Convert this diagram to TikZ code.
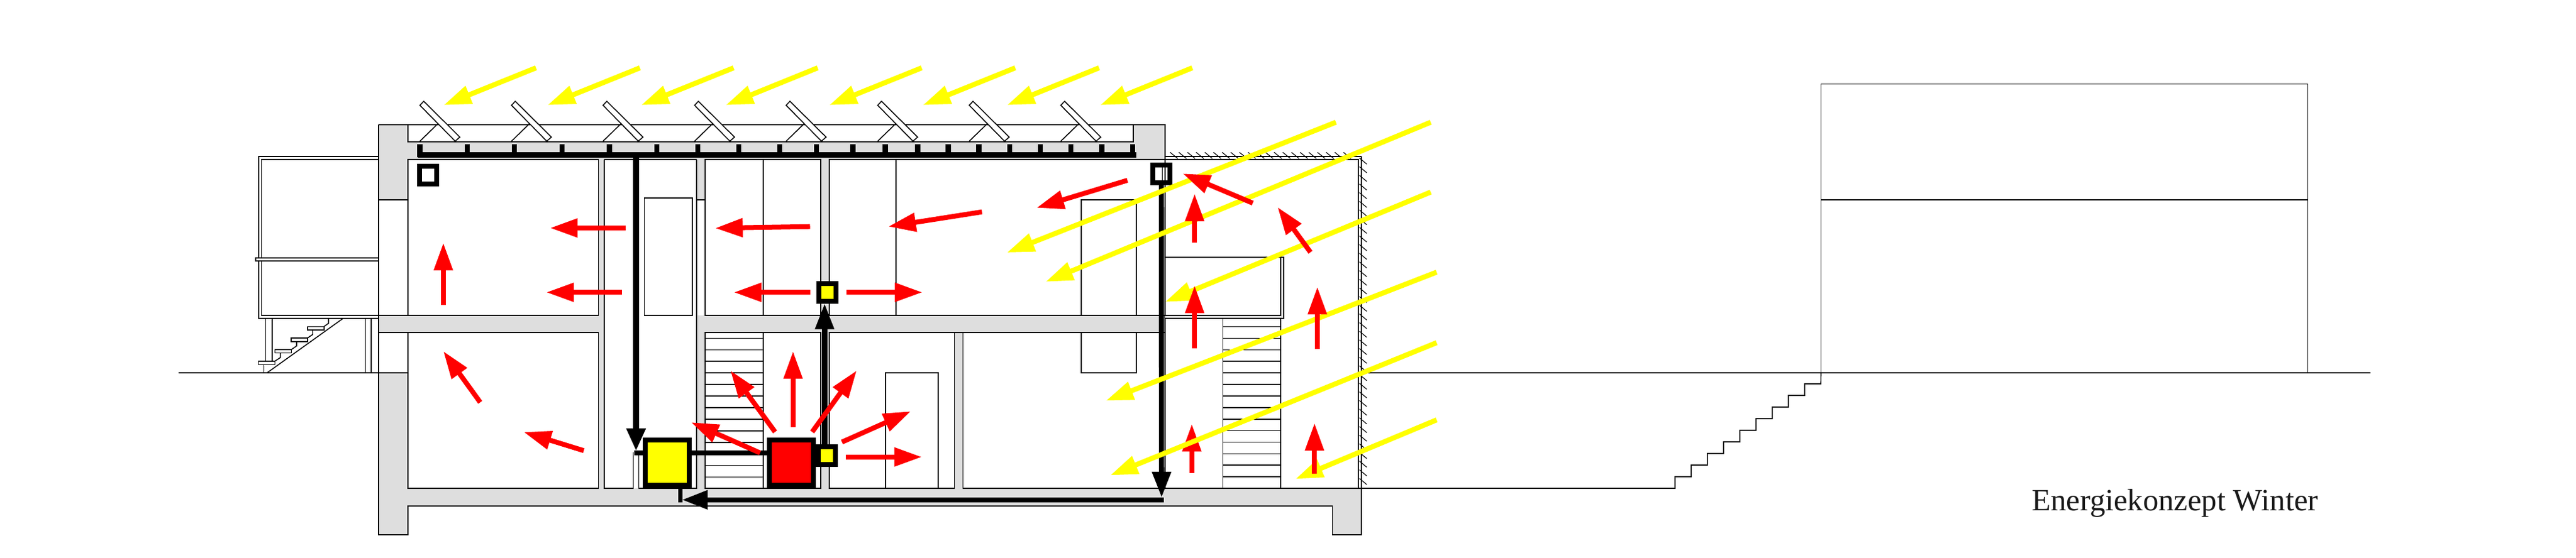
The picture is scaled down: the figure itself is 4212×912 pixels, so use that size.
\documentclass[tikz,border=0pt]{standalone}
\usepackage{fontspec}
\setmainfont{Liberation Serif}
\usetikzlibrary{arrows.meta}
\definecolor{wallgrey}{HTML}{DEDEDE}
\definecolor{sunyellow}{RGB}{255,255,0}
\definecolor{heatred}{RGB}{255,0,0}
\tikzset{
  px/.style={line width=#1*0.2845pt},
  fine/.style={draw=black,px=1.6},
  room/.style={fine,fill=white},
  wall/.style={fill=wallgrey,draw=none},
  heat/.style={draw=heatred,px=8,-{Triangle[length=.45cm,width=.295cm,fill=heatred]}},
  sun/.style={draw=sunyellow,px=8.2,-{Triangle[length=.45cm,width=.295cm,fill=sunyellow]}},
  pipe/.style={draw=black,px=8.4},
  pipearrow/.style={pipe,-{Triangle[length=.42cm,width=.295cm,fill=black]}},
  unit/.style={draw=black,px=8,inner sep=0pt,rectangle,outer sep=4*0.01cm},
}
\begin{document}
\begin{tikzpicture}[x=0.01cm,y=-0.01cm]
\useasboundingbox (0,0) rectangle (4212,912);
% ---------- concrete
\fill[wall] (619,203.7) rectangle (1905,260.7);
\fill[wall] (619,203.7) rectangle (666.7,326.7);
\fill[wall] (619,515.7) rectangle (978.5,544);
\fill[wall] (978.5,260.7) rectangle (988,799);
\fill[wall] (1139,515.7) rectangle (1905,544);
\fill[wall] (1139,260.7) rectangle (1153,326.7);
\fill[wall] (1139,515.7) rectangle (1153,799);
\fill[wall] (1342,260.7) rectangle (1356,799);
\fill[wall] (1560.5,544) rectangle (1574.6,799);
\fill[wall] (1035.5,740) rectangle (1044.6,799);
\fill[wall] (619,610) rectangle (666.7,875);
\fill[wall] (619,799) rectangle (2225.7,827.7);
\fill[wall] (2178.3,827.7) rectangle (2225.7,875);
% ---------- outlines of the concrete
\draw[fine] (619,610) -- (619,875) -- (666.7,875) -- (666.7,827.7) -- (2178.3,827.7) -- (2178.3,875) -- (2225.7,875) -- (2225.7,256);
\draw[fine] (619,203.7) -- (1905,203.7) -- (1905,799);
\draw[fine] (619,203.7) -- (619,610);
\draw[fine] (619,326.7) -- (666.7,326.7);
\draw[fine] (619,515.7) -- (666.7,515.7) (619,544) -- (666.7,544);
\draw[fine] (1900,260.7) -- (1900,326.7);
\draw[fine] (1139,326.7) -- (1153,326.7);
% ---------- rooms
\draw[room] (666.7,203.7) rectangle (1853,232);
\draw[room] (666.7,260.7) rectangle (978.5,515.7);
\draw[room] (1153,260.7) rectangle (1342,515.7);
\draw[fine] (1247.7,260.7) -- (1247.7,515.7);
\draw[room] (1356,260.7) rectangle (1905,515.7);
\draw[fine] (1465,260.7) -- (1465,515.7);
\draw[room] (666.7,544) rectangle (978.5,799);
\draw[fine] (666.7,326.7) -- (666.7,515.7);
\draw[fine] (619,610) -- (666.7,610);
% shaft
\fill[white] (988,260.7) rectangle (1139,799);
\draw[fine] (988,260.7) -- (1139,260.7) (988,260.7) -- (988,799) -- (1035.5,799) -- (1035.5,740) (1044.6,740) -- (1044.6,799) -- (1139,799) -- (1139,260.7);
\draw[room] (1053.5,323.7) rectangle (1132,515.7);
\draw[fine] (1153,326.7) -- (1153,515.7);
% lower rooms
\draw[room] (1153,544) rectangle (1342,799);
\draw[fine] (1247.7,544) -- (1247.7,799);
\foreach \y in {553.3,572.3,591,610,629,647.7,666.7,685.7,704.7,723.7,742.7,761.3,780.3}
  \draw[fine] (1153,\y) -- (1247.7,\y);
\draw[fine] (1139,544) -- (1139,799);
\draw[room] (1356,544) rectangle (1560.5,799);
\draw[fine] (1448,799) -- (1448,610) -- (1534,610) -- (1534,799);
\draw[room] (1574.6,544) rectangle (1905,799);
\draw[room] (1768,326.7) rectangle (1858,515.7);
\draw[fine] (1768,544) -- (1768,610) -- (1858,610) -- (1858,544);
\draw[fine] (1356,515.7) -- (1905,515.7) (1356,544) -- (1574.6,544);
% ---------- east annex
\fill[white] (1905,260.7) rectangle (2220.7,799);
\draw[fine] (1905,256) -- (2225.7,256) (1905,260.7) -- (2220.7,260.7) -- (2220.7,799);
\draw[fine] (1905,260.7) -- (1905,799);
\draw[fine] (1905,799) -- (2225.7,799);
\fill[wall] (1905,515.7) -- (2094,515.7) -- (2094,421) -- (2098.7,421) -- (2098.7,520.7) -- (1905,520.7) -- cycle;
\draw[fine] (1905,421) -- (2098.7,421) -- (2098.7,520.7) -- (1905,520.7);
\draw[fine] (2094,421) -- (2094,515.7) -- (1905,515.7);
\draw[fine] (1999.3,520.7) -- (1999.3,799) (2094,520.7) -- (2094,799);
\foreach \y in {534.3,553.3,572.3,591,610,629,647.7,666.7,685.7,704.3,723.3,742.3,761,780}
  \draw[fine] (1999.3,\y) -- (2094,\y);
\foreach \i in {0,...,20}
  \draw[draw=black,px=1.2] ({1913.3+14.17*\i},249.3) -- ++(12.3,10);
\foreach \i in {0,...,37}
  \draw[draw=black,px=1.2] (2222.7,{258.5+14.17*\i}) -- ++(12,10);
% ---------- terrace on the west
\draw[fine] (619,255.7) -- (422.9,255.7) -- (422.9,520.7) -- (619,520.7);
\draw[fine] (619,260.7) -- (427.4,260.7) -- (427.4,515.7) -- (619,515.7);
\draw[room] (418,421.7) rectangle (619,426.7);
\draw[fine] (434.4,520.7) -- (434.4,591) (444.8,520.7) -- (444.8,591) (431.6,596.3) -- (431.6,610);
\draw[fine] (597.5,520.7) -- (597.5,610) (607.2,520.7) -- (607.2,610);
\draw[fine] (436.7,610) -- (561.3,520.7);
\draw[room] (422.4,591) rectangle (449.3,596.3);
\draw[room] (449.3,572) rectangle (476.3,577.3);
\draw[room] (475.8,553) rectangle (502.7,558.7);
\draw[room] (502.7,534.3) rectangle (529.7,539.7);
\draw[fine] (449.3,591) -- (458.5,585) -- (458.5,577.3);
\draw[fine] (476.3,572) -- (485,566) -- (485,558.7);
\draw[fine] (502.7,553) -- (511.3,547.3) -- (511.3,539.7);
\draw[fine] (529.7,534.3) -- (537.2,529) -- (537.2,520.7);
% ---------- ground, outer stair, neighbour, caption
\draw[fine] (291.5,610) -- (666.7,610);
\draw[fine] (2225.7,610) -- (3875.6,610);
\draw[fine] (2225.7,799) -- (2738.7,799)
  -- ++(0,-19) -- ++(26.5,0) -- ++(0,-19) -- ++(26.5,0) -- ++(0,-19) -- ++(26.5,0)
  -- ++(0,-19) -- ++(26.5,0) -- ++(0,-19) -- ++(26.5,0) -- ++(0,-19) -- ++(26.5,0)
  -- ++(0,-19) -- ++(26.5,0) -- ++(0,-19) -- ++(26.5,0) -- ++(0,-19) -- ++(26.5,0) -- (2977.5,610);
\draw[fine] (2977.5,610) -- (2977.5,137.3) -- (3773.6,137.3) -- (3773.6,610);
\draw[fine] (2977.5,326.9) -- (3773.6,326.9);
\node[anchor=base west,inner sep=0pt,text=black!90,font=\fontsize{14.4pt}{16pt}\selectfont] (caption) at (3321.6,835) {Energiekonzept Winter};
% ---------- solar panels
\foreach \i in {0,...,7}{
  \begin{scope}[xshift={149.7*\i*0.01cm}]
    \draw[fine] (715.7,202.7) -- (686.6,231);
    \draw[room] (692.8,165.7) -- (686.6,172.3) -- (744.3,231) -- (751.9,224.3) -- cycle;
  \end{scope}}
% ---------- heat arrow below the sun rays
\draw[heat] (1948.7,773.7) -- (1948.7,693.7);
% ---------- pipes and units
\foreach \x in {686.6,763.7,841.2,918.8,996.3,1073.9,1140.7,1208.2,1275,1334.7,1394.4,1447.4,1500.5,1550.5,1600.5,1651,1701,1751,1801.5,1852}
  \draw[pipe] (\x,235.7) -- (\x,257);
\coordinate (roofW) at (682.6,253.3);
\coordinate (roofE) at (1858,253.3);
\coordinate (riserTop) at (1040,249);
\coordinate (riserEnd) at (1040,738);
\draw[pipe] (roofW) -- (roofE);
\node[unit,fill=sunyellow,minimum width=.72cm,minimum height=.743cm] (store) at (1091,757) {};
\node[unit,fill=heatred,minimum width=.72cm,minimum height=.743cm] (boiler) at (1294.3,757) {};
\node[unit,fill=sunyellow,minimum width=.28cm,minimum height=.287cm] (valveLow) at (1352,745.3) {};
\node[unit,fill=sunyellow,minimum width=.28cm,minimum height=.287cm] (valveUp) at (1352.5,478.3) {};
\node[unit,fill=white,minimum width=.28cm,minimum height=.287cm] (sensorE) at (1899,284.3) {};
\node[unit,fill=white,minimum width=.28cm,minimum height=.287cm] (sensorW) at (700.3,286.3) {};
\draw[fine] (1900.5,274) -- (1900.5,295) (1905,274) -- (1905,295);
\draw[pipe,px=10,-{Triangle[length=.37cm,width=.295cm,fill=black]}] (riserTop) -- (riserEnd);
\coordinate (stubW) at (1036.6,741);
\draw[pipe] (stubW) -- (store.west |- stubW);
\draw[pipe] (store.east |- stubW) -- (boiler.west |- stubW);
\coordinate (riserTwo) at (1348.3,0);
\draw[pipearrow] (riserTwo |- valveLow.north) -- (riserTwo |- valveUp.south);
\draw[pipearrow] (sensorE.south) -- (1899.3,814);
\coordinate (returnEnd) at (1115,817.8);
\draw[pipearrow] (1903.3,817.8) -- (returnEnd);
\coordinate (returnDrop) at (1112.5,821.7);
\draw[pipe,px=7] (returnDrop |- store.south) -- (returnDrop);
% ---------- sun rays
\foreach \xa/\xb in {876.4/725.4,1046.3/895.3,1199.5/1048.4,1337/1186.7,1507/1356,1660/1509,1797/1646.6,1949.5/1799}
  \draw[sun] (\xa,111) -- (\xb,172);
\draw[sun] (2184.3,200) -- (1646.4,413.3);
\draw[sun] (2339.3,200) -- (1709.7,461);
\draw[sun] (2339.3,314.3) -- (1905,494);
\draw[sun] (2349,445.3) -- (1808.2,655.7);
\draw[sun] (2349,560.7) -- (1815.3,777.7);
\draw[sun] (2349,687) -- (2118.3,783.7);
% ---------- heat arrows
\draw[heat] (1023.4,373) -- (899.4,373);
\draw[heat] (1017.2,478.3) -- (893.3,478.3);
\draw[heat] (724.9,499.3) -- (724.9,397.3);
\draw[heat] (1324.5,370.7) -- (1169.4,373.3);
\draw[heat] (1605.6,346.7) -- (1452.6,370.7);
\draw[heat] (1843.4,295) -- (1694.9,340);
\draw[heat] (1324.5,478.3) -- (1200,478.3);
\draw[heat] (1383.7,478.3) -- (1508.2,478.3);
\draw[heat] (785.2,658.3) -- (724.9,574.7);
\draw[heat] (954.5,737.3) -- (856.4,707);
\draw[heat] (1296.7,698.7) -- (1296.7,574.7);
\draw[heat] (1267.3,706.7) -- (1194.3,606.3);
\draw[heat] (1328,706.7) -- (1400.7,606.3);
\draw[heat] (1376.7,723.3) -- (1489.3,673);
\draw[heat] (1383.3,747.7) -- (1507.3,747.7);
\draw[heat] (1242.7,741) -- (1130,691);
\draw[heat] (2048.3,332.3) -- (1934,284);
\draw[heat] (1953.3,397) -- (1953.3,317);
\draw[heat] (2142.7,412.7) -- (2089,339);
\draw[heat] (1953.3,569.7) -- (1953.3,467.3);
\draw[heat] (2154,571.3) -- (2154,469.3);
\draw[heat] (2149.3,775.3) -- (2149.3,692.3);
\end{tikzpicture}
\end{document}
